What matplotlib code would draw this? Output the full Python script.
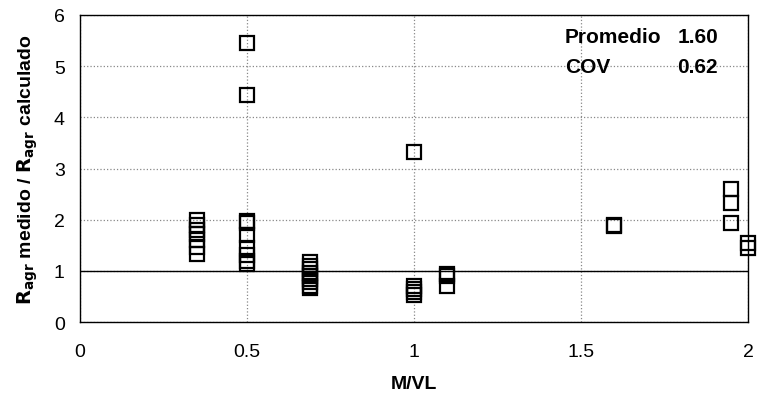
import matplotlib
matplotlib.use("Agg")
import matplotlib.pyplot as plt

plt.rcParams['font.family'] = ['Liberation Sans', 'DejaVu Sans']

# M/VL y razón medido / calculado, por grupo
x_035 = [0.35] * 7
y_035 = [2.0, 1.9, 1.8, 1.72, 1.6, 1.47, 1.32]
x_050 = [0.5] * 9
y_050 = [5.46, 4.44, 1.98, 1.93, 1.7, 1.45, 1.3, 1.2, 1.13]
x_069 = [0.69] * 9
y_069 = [1.17, 1.1, 1.03, 0.96, 0.9, 0.84, 0.78, 0.71, 0.67]
x_100 = [1.0] * 5
y_100 = [3.33, 0.7, 0.64, 0.58, 0.53]
x_110 = [1.1] * 3
y_110 = [0.94, 0.9, 0.7]
x_160 = [1.6] * 2
y_160 = [1.88, 1.9]
x_195 = [1.95] * 3
y_195 = [2.6, 2.33, 1.94]
x_200 = [2.0] * 2
y_200 = [1.54, 1.45]

promedio = "1.60"
cov = "0.62"

xs = x_035 + x_050 + x_069 + x_100 + x_110 + x_160 + x_195 + x_200
ys = y_035 + y_050 + y_069 + y_100 + y_110 + y_160 + y_195 + y_200

fig = plt.figure(figsize=(7.58, 4.02), dpi=100)
ax = fig.add_axes([0.1055, 0.1965, 0.8813, 0.7637])

ax.plot(xs, ys, linestyle='none', marker='s', markersize=10,
        markerfacecolor='none', markeredgecolor='black', markeredgewidth=1.6,
        zorder=3, clip_on=False)

ax.set_xlim(0, 2)
ax.set_ylim(0, 6)
ax.set_xticks([0, 0.5, 1, 1.5, 2])
ax.set_xticklabels(['0', '0.5', '1', '1.5', '2'])
ax.set_yticks(range(0, 7))

ax.grid(True, color='#888888', linestyle=':', linewidth=0.9)
ax.axhline(1, color='black', linewidth=1.0, zorder=2)
for s in ax.spines.values():
    s.set_color('black')
    s.set_linewidth(1.0)

ax.tick_params(axis='both', length=0, labelsize=14)
ax.tick_params(axis='x', pad=15)
ax.tick_params(axis='y', pad=11)

ax.set_xlabel('M/VL', fontsize=14, fontweight='bold', labelpad=11)
ax.set_ylabel(r'$\mathbf{R_{agr}}$ medido / $\mathbf{R_{agr}}$ calculado',
              fontsize=14, fontweight='bold', labelpad=10)

ax.text(0.726, 0.93, 'Promedio', transform=ax.transAxes, fontsize=15,
        fontweight='bold', ha='left', va='center')
ax.text(0.955, 0.93, promedio, transform=ax.transAxes, fontsize=15,
        fontweight='bold', ha='right', va='center')
ax.text(0.726, 0.832, 'COV', transform=ax.transAxes, fontsize=15,
        fontweight='bold', ha='left', va='center')
ax.text(0.955, 0.832, cov, transform=ax.transAxes, fontsize=15,
        fontweight='bold', ha='right', va='center')

fig.savefig('out.png', dpi=100)
